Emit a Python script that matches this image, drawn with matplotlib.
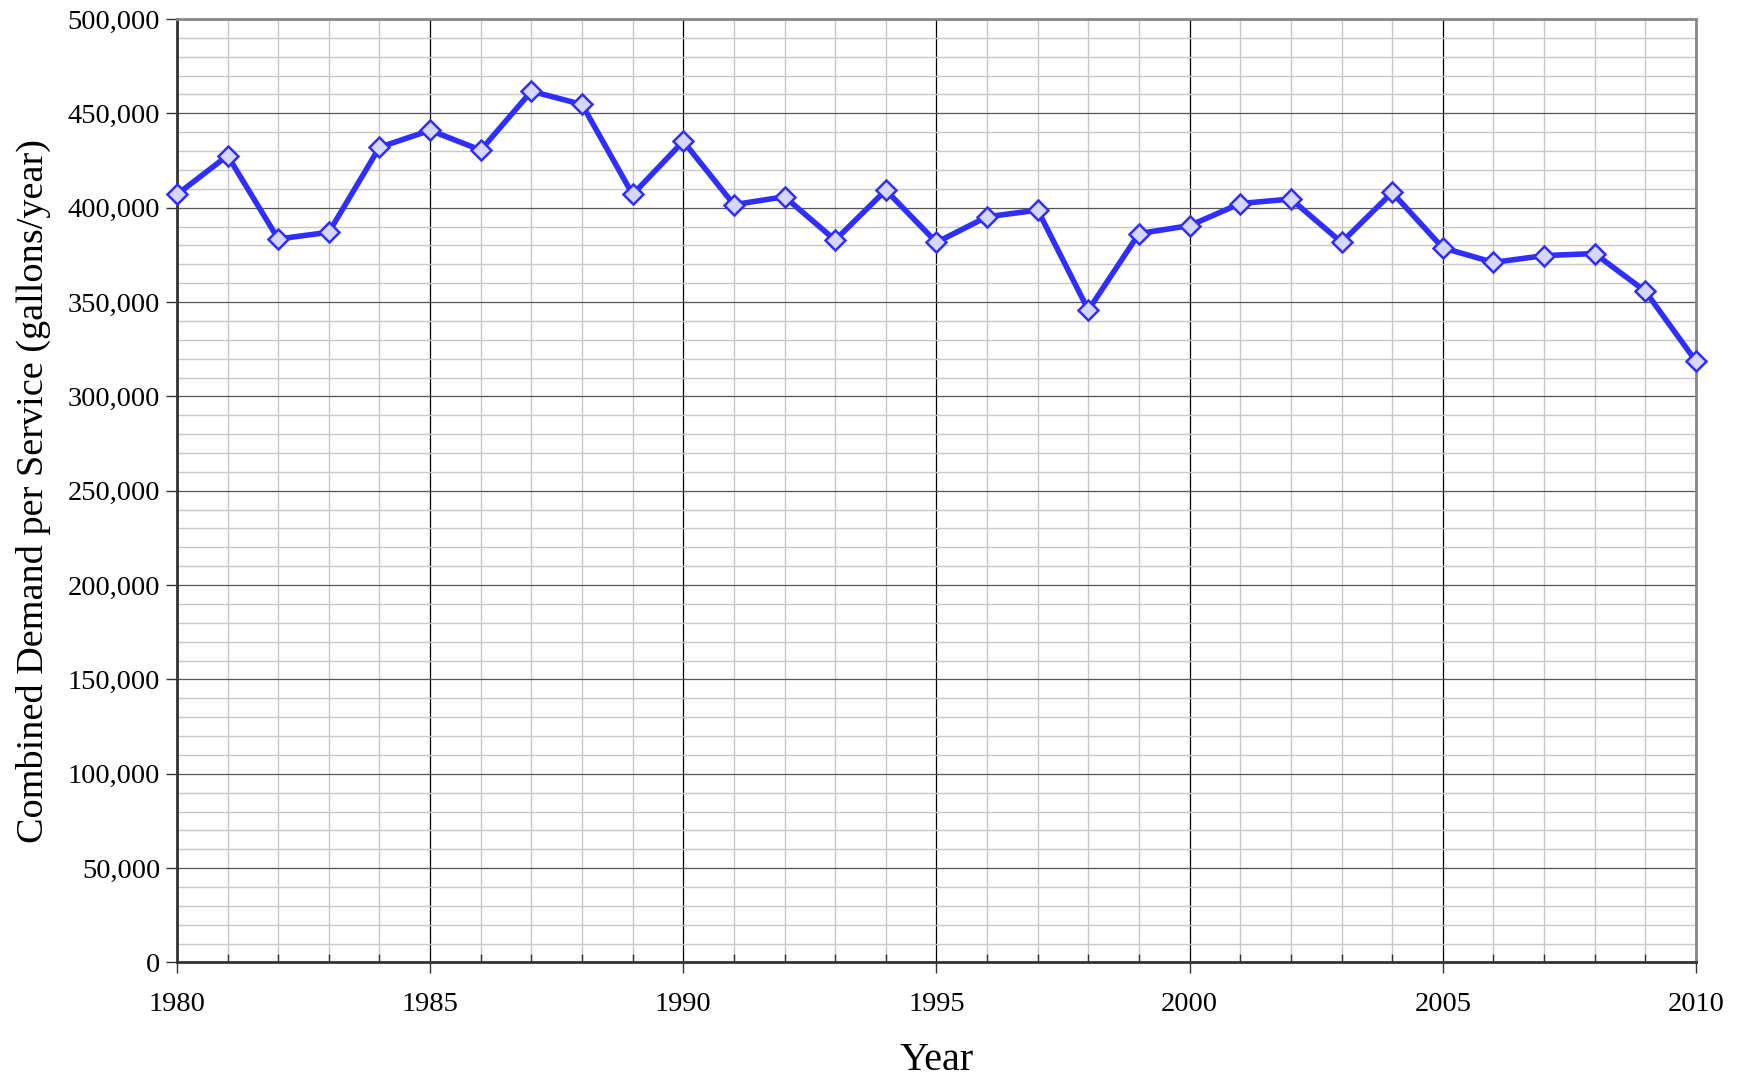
import matplotlib.pyplot as plt
from matplotlib.ticker import MultipleLocator, FuncFormatter

years = list(range(1980, 2011))
demand = [407000, 427600, 383400, 387000, 432000, 441000, 430500, 461700,
          454700, 407000, 435200, 401600, 405800, 382800, 409300, 381600,
          395200, 398700, 345700, 386300, 390500, 402200, 404600, 381600,
          408100, 378700, 371000, 374600, 375700, 355700, 318600]

plt.rcParams['font.family'] = ['Liberation Serif', 'DejaVu Serif']

fig = plt.figure(figsize=(17.4, 10.79), dpi=100)
ax = fig.add_axes([0.1017, 0.108, 0.8730, 0.8744])

ax.plot(years, demand, color='#2e2eff', linewidth=4, marker='D',
        markersize=10, markerfacecolor='#d6d6ff', markeredgecolor='#2e2eff',
        markeredgewidth=1.8, zorder=5, clip_on=False)

ax.set_xlim(1980, 2010)
ax.set_ylim(0, 500000)

ax.xaxis.set_major_locator(MultipleLocator(5))
ax.xaxis.set_minor_locator(MultipleLocator(1))
ax.yaxis.set_major_locator(MultipleLocator(50000))
ax.yaxis.set_minor_locator(MultipleLocator(10000))
ax.yaxis.set_major_formatter(FuncFormatter(lambda v, p: f'{int(v):,}'))

ax.grid(which='minor', color='#c8c8c8', linewidth=1.0)
ax.grid(which='major', axis='x', color='#000000', linewidth=0.9)
ax.grid(which='major', axis='y', color='#555555', linewidth=0.9)
ax.set_axisbelow(True)

ax.tick_params(axis='x', which='major', direction='out', length=8, width=1,
               labelsize=20.5, pad=13, color='#333333')
ax.tick_params(axis='x', which='minor', direction='in', length=6, width=1,
               color='#333333')
ax.tick_params(axis='y', which='major', direction='out', length=8, width=1,
               labelsize=20.5, pad=4, color='#333333')
ax.tick_params(axis='y', which='minor', length=0)

for side in ['left', 'bottom']:
    ax.spines[side].set_color('#333333')
    ax.spines[side].set_linewidth(2)
for side in ['top', 'right']:
    ax.spines[side].set_color('#888888')
    ax.spines[side].set_linewidth(2)

ax.set_xlabel('Year', fontsize=29, labelpad=18)
ax.set_ylabel('Combined Demand per Service (gallons/year)', fontsize=27.5, labelpad=12)

plt.savefig('out.png', dpi=100)
